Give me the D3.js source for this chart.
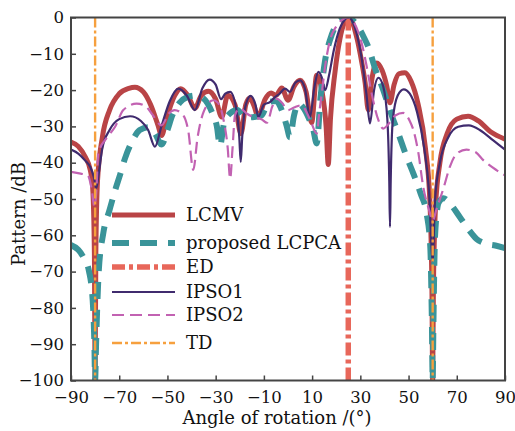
<!DOCTYPE html>
<html lang="en">
<head>
  <meta charset="UTF-8">
  <title>Beam pattern</title>
  <style>
    body { margin: 0; background: #fff; }
    text { font-family: "DejaVu Serif", serif; fill: #111; }
  </style>
</head>
<body>
  <div id="chart"></div>
  <script src="https://cdn.jsdelivr.net/npm/d3@7"></script>
  <script>

  // data (angle in degrees, pattern in dB)
  const lcmvAngle = [-90,-87,-84,-82,-81,-80.3,-80,-79.7,-79,-77,-74,-70,-66,-63.5,-60,-57,-54,-52.4,-50.5,-47,-44.5,-41.5,-38.6,-36,-33,-30,-27.5,-25,-22,-19.5,-17.5,-15.8,-14,-12.4,-9.5,-7,-5,-2.6,0,2.5,5,7.5,9.8,11.9,14,15.8,16.7,17.6,19.5,21.5,23.3,25,26.8,28.7,30.5,32,33.3,34.8,36.8,39,41,42.3,44,46,48.5,51,54,57,58.8,59.7,60,60.3,61.2,63,66,70,74.7,79,84,90];
  const lcmvDb    = [-34.3,-35.5,-38.5,-42,-47,-65,-100,-65,-45,-33,-25.5,-21,-19.5,-19.2,-20.5,-24,-29.5,-32.5,-28,-21.5,-19.6,-21.5,-25,-21.5,-20.3,-22.5,-27.4,-21.4,-24,-32,-24,-22.2,-24.5,-27.4,-22.5,-20.8,-21.5,-19.4,-22.8,-19,-17.3,-20.5,-29,-15.9,-20,-30,-40.5,-28,-15,-6,-1.5,0,-1.5,-6,-12,-18,-25.5,-17,-12.5,-14.5,-19,-23.5,-18.5,-15.5,-15.2,-17.5,-24,-36,-50,-75,-100,-75,-52,-40,-32,-28,-27.2,-28.5,-31.5,-33.5];

  const lcpcaAngle = [-90,-87,-84.5,-82.5,-81,-80.3,-80,-79.6,-78.5,-76.6,-74,-71.7,-69.5,-67.6,-64.8,-61.5,-58,-55.2,-52.4,-50,-48,-45,-42,-38,-35.2,-31.6,-29.5,-28.2,-26.5,-24,-21,-17.8,-14,-11,-8,-5,-2.6,-0.5,0.8,2.5,4.3,6.5,8.4,10.5,11.9,13.5,15.4,17.5,19.5,22,25,27,29.5,31.5,33.3,36.1,39.5,42.5,45.8,49,52,55,57.5,59,59.7,60,60.3,61,62.5,64.5,67.2,71.3,75,78.2,82,86,90];
  const lcpcaDb    = [-62.7,-64,-66.5,-70,-78,-90,-100,-90,-70,-59.4,-53,-47.6,-43,-38.8,-34.3,-31,-30.2,-31.9,-35,-31,-27,-23.5,-22,-21.5,-22.2,-26,-30,-35.4,-29,-26.4,-25.5,-27.6,-27.4,-27,-23.3,-23,-25.5,-30,-33,-27,-23.7,-25,-27.4,-31,-34.7,-22,-11.8,-6,-2.6,-0.6,0,-0.8,-3,-5.5,-8.1,-14,-20,-26,-32,-38,-43,-48.5,-54,-63,-85,-100,-85,-60,-51,-49.8,-51.3,-55,-58.5,-61,-62.3,-62.8,-63.5];

  const ipso1Angle = [-90,-87,-84,-82,-80.5,-79.5,-78.5,-77,-74,-70,-65.5,-61,-58,-55.2,-52.5,-49,-45.5,-42,-38.6,-35.5,-32.5,-30,-27.8,-26,-24,-21.5,-20.2,-19.6,-19,-17.5,-15.5,-13.5,-12.3,-10,-7.5,-5.5,-3.5,-1.2,0.8,3,5,7,9.1,11,12.6,14,15.4,17,19,21.5,23.5,25,26.5,28.5,30.5,32.5,34,35.7,37.5,39.5,41.2,42,42.3,42.6,43.5,45.5,48,50.5,53.5,56.5,58.5,60,61,63,66.5,70.6,75,80,85,90];
  const ipso1Db    = [-36.4,-37.5,-39.5,-41.2,-44,-47,-43,-36,-31,-28,-27.2,-28.5,-31,-35.6,-30,-23,-19.6,-21.5,-25.5,-19.5,-17.1,-18.5,-22.5,-21,-20.5,-25,-33,-39.8,-33,-24,-21.6,-24,-27.4,-24,-23.3,-22,-21,-19.6,-20.5,-18,-17.3,-19.5,-27.4,-19,-15,-16.5,-20,-16,-9,-3,-0.6,0,-0.8,-4.5,-11,-21,-29.2,-20,-16.6,-19,-28,-45,-57.7,-45,-28,-21.5,-19.8,-21,-26,-36,-48,-67,-50,-40,-33,-30.1,-29.7,-31.2,-33.8,-36.4];

  const ipso2Angle = [-90,-86,-83,-81.5,-80.3,-79.5,-78.7,-75,-71.7,-68.3,-62.8,-59,-56.5,-52.4,-49.5,-47,-43.4,-41.3,-39.3,-37.5,-35,-31,-28.5,-26.8,-25,-24,-23,-22,-20,-17,-14,-11,-8.7,-6.5,-4.5,-2.5,0,2.5,5.5,8,9.8,11.9,13,14,15.5,17.4,20,22.3,25,27.5,30.6,32.5,34.7,37.5,39.5,41.5,44.5,47.8,50.5,52,54,56.1,58.5,60,61.5,64.5,67.2,70,74,78,81,86.6,90];
  const ipso2Db    = [-42.5,-43,-43.5,-47,-52,-48,-37.5,-33,-30.1,-25.5,-23.7,-24.5,-26.5,-29.7,-26.5,-25.5,-27,-31.5,-42,-33,-26,-22.8,-24,-28,-36,-44.4,-36,-27,-25,-26.5,-27.5,-28,-29,-24.5,-22.4,-23.5,-25.5,-24.8,-24.2,-26.5,-29.2,-32,-26,-20.9,-13,-6.3,-2.5,-0.7,0,-1.5,-7.2,-13,-20.9,-28.3,-30.6,-29.5,-27,-26.3,-28.5,-31,-37,-46.7,-53,-56,-53,-47,-41,-37.5,-36.4,-37.2,-39.3,-42.1,-43.5];

  // vertical reference lines
  const edAngle = [25];
  const tdAngle = [-80, 60];

  const legendNames = ["LCMV", "proposed LCPCA", "ED", "IPSO1", "IPSO2", "TD"];
  const xTicks = [-90,-70,-50,-30,-10,10,30,50,70,90];
  const yTicks = [0,-10,-20,-30,-40,-50,-60,-70,-80,-90,-100];

  // plot configuration
  const width = 515, height = 431;
  const margin = {top: 17.5, left: 71, right: 10, bottom: 50.5};
  const plotWidth = width - margin.left - margin.right;
  const plotHeight = height - margin.top - margin.bottom;

  const styles = {
    "LCMV":           {color: "#b94446", width: 5,   dash: null},
    "proposed LCPCA": {color: "#3a9499", width: 6,   dash: "17,11"},
    "ED":             {color: "#e8675a", width: 5.5, dash: "13,4,4,4"},
    "IPSO1":          {color: "#402b6e", width: 2.2, dash: null},
    "IPSO2":          {color: "#c262b2", width: 2.2, dash: "12,6"},
    "TD":             {color: "#f6a03e", width: 2.4, dash: "10,3,3,3"}
  };

  const svg = d3.select("#chart")
                .append("svg")
                  .attr("width", width)
                  .attr("height", height)
                .append("g")
                  .attr("transform", "translate(" + margin.left + "," + margin.top + ")");

  const x = d3.scaleLinear().domain([-90, 90]).range([0, plotWidth]);
  const y = d3.scaleLinear().domain([-100, 0]).range([plotHeight, 0]);

  svg.append("clipPath").attr("id", "clip")
     .append("rect").attr("width", plotWidth).attr("height", plotHeight);

  const plot = svg.append("g").attr("clip-path", "url(#clip)");

  const line = d3.line()
      .x(d => x(d[0]))
      .y(d => y(d[1]))
      .curve(d3.curveMonotoneX);

  function addCurve(angles, values, name) {
    const s = styles[name];
    plot.append("path")
        .datum(d3.zip(angles, values))
        .attr("d", line)
        .attr("fill", "none")
        .attr("stroke", s.color)
        .attr("stroke-width", s.width)
        .attr("stroke-dasharray", s.dash)
        .attr("stroke-linejoin", "round");
  }

  function addVertical(angles, name) {
    const s = styles[name];
    plot.selectAll(null)
        .data(angles)
        .enter()
        .append("line")
          .attr("x1", d => x(d)).attr("x2", d => x(d))
          .attr("y1", y(0)).attr("y2", y(-100))
          .attr("stroke", s.color)
          .attr("stroke-width", s.width)
          .attr("stroke-dasharray", s.dash);
  }

  addCurve(lcmvAngle, lcmvDb, "LCMV");
  addCurve(lcpcaAngle, lcpcaDb, "proposed LCPCA");
  addVertical(edAngle, "ED");
  addCurve(ipso1Angle, ipso1Db, "IPSO1");
  addCurve(ipso2Angle, ipso2Db, "IPSO2");
  addVertical(tdAngle, "TD");

  // axes with inward ticks, boxed frame
  const frameColor = "#444";

  const xAxis = svg.append("g")
      .attr("transform", "translate(0," + plotHeight + ")")
      .call(d3.axisBottom(x).tickValues(xTicks).tickSizeInner(-5).tickSizeOuter(0).tickPadding(11));
  const yAxis = svg.append("g")
      .call(d3.axisLeft(y).tickValues(yTicks).tickSizeInner(-5).tickSizeOuter(0).tickPadding(7));

  [xAxis, yAxis].forEach(a => {
    a.select(".domain").remove();
    a.selectAll(".tick line").attr("stroke", frameColor).attr("stroke-width", 1.5);
    a.selectAll(".tick text")
     .style("font-family", "'DejaVu Serif', serif")
     .style("font-size", "16.5px")
     .attr("fill", "#111");
  });

  svg.append("rect")
     .attr("width", plotWidth)
     .attr("height", plotHeight)
     .attr("fill", "none")
     .attr("stroke", frameColor)
     .attr("stroke-width", 2);

  // axis titles
  svg.append("text")
     .attr("x", 277 - margin.left)
     .attr("y", plotHeight + 43)
     .attr("text-anchor", "middle")
     .style("font-size", "18px")
     .text("Angle of rotation /(°)");

  svg.append("text")
     .attr("transform", "translate(" + (-46) + "," + (214 - margin.top) + ") rotate(-90)")
     .attr("text-anchor", "middle")
     .style("font-size", "18px")
     .text("Pattern /dB");

  // legend
  const legendY = [215, 243, 267, 292, 315, 343];
  const legend = svg.append("g");
  legendNames.forEach((name, i) => {
    const s = styles[name];
    const ly = legendY[i] - margin.top;
    legend.append("line")
          .attr("x1", 112 - margin.left).attr("x2", 175 - margin.left)
          .attr("y1", ly).attr("y2", ly)
          .attr("stroke", s.color)
          .attr("stroke-width", s.width)
          .attr("stroke-dasharray", s.dash);
    legend.append("text")
          .attr("x", 186 - margin.left)
          .attr("y", ly)
          .attr("dy", "0.35em")
          .style("font-size", "18px")
          .text(name);
  });

  </script>
</body>
</html>
